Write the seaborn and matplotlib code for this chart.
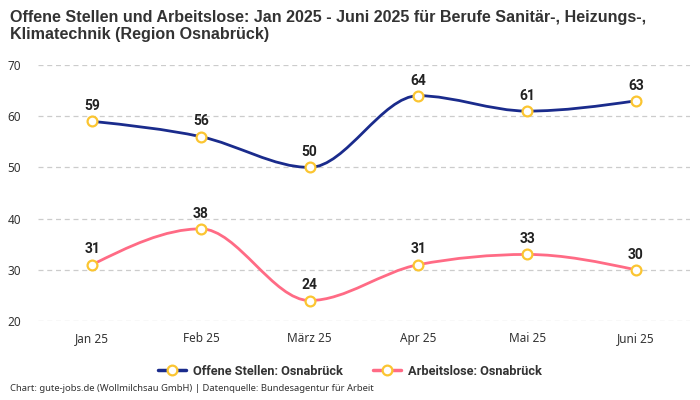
import numpy as np
import pandas as pd
import matplotlib
matplotlib.use("Agg")
import matplotlib.pyplot as plt
from matplotlib.path import Path
from matplotlib.patches import PathPatch
from matplotlib.lines import Line2D
import seaborn as sns

months = ["Jan 25", "Feb 25", "März 25", "Apr 25", "Mai 25", "Juni 25"]
offene_stellen = [59, 56, 50, 64, 61, 63]
arbeitslose = [31, 38, 24, 31, 33, 30]
series_names = ["Offene Stellen: Osnabrück", "Arbeitslose: Osnabrück"]
series_colors = ["#1a2b8c", "#ff6b85"]
marker_edge = "#fbc531"

sns.set_theme(style="white")
plt.rcParams['font.family'] = ['Noto Sans', 'DejaVu Sans']
bold_family = ['Roboto', 'Liberation Sans', 'DejaVu Sans']


def smooth_path(xs, ys):
    '''monotone cubic bezier through the points (just a rendering of the line)'''
    xs = np.asarray(xs, float)
    ys = np.asarray(ys, float)
    h = np.diff(xs)
    s = np.diff(ys) / h
    n = len(xs)
    t = np.zeros(n)
    for i in range(1, n - 1):
        if s[i - 1] * s[i] <= 0:
            t[i] = 0
        else:
            p = (s[i - 1] * h[i] + s[i] * h[i - 1]) / (h[i - 1] + h[i])
            t[i] = np.sign(s[i - 1]) * min(abs(s[i - 1]), abs(s[i]), 0.5 * abs(p)) * 2
    t[0] = (3 * s[0] - t[1]) / 2
    t[-1] = (3 * s[-1] - t[-2]) / 2
    verts = [(xs[0], ys[0])]
    codes = [Path.MOVETO]
    for i in range(n - 1):
        dx = h[i] / 3
        verts += [(xs[i] + dx, ys[i] + t[i] * dx),
                  (xs[i + 1] - dx, ys[i + 1] - t[i + 1] * dx),
                  (xs[i + 1], ys[i + 1])]
        codes += [Path.CURVE4] * 3
    return Path(verts, codes)


df = pd.DataFrame({
    "x": list(range(len(months))) * 2,
    "y": offene_stellen + arbeitslose,
    "serie": [series_names[0]] * len(months) + [series_names[1]] * len(months),
})

fig = plt.figure(figsize=(7, 4), dpi=100)
ax = fig.add_axes([0.054, 0.1975, 0.932, 0.64])

for name, vals, col in zip(series_names, [offene_stellen, arbeitslose], series_colors):
    ax.add_patch(PathPatch(smooth_path(range(len(months)), vals), facecolor="none",
                           edgecolor=col, lw=2, zorder=2))
    for i, v in enumerate(vals):
        ax.text(i, v + 1.6, str(v), ha="center", va="bottom", fontsize=10,
                fontweight="bold", color="#222222", zorder=4, family=bold_family)

sns.scatterplot(data=df, x="x", y="y", ax=ax, color="white", edgecolor=marker_edge,
                linewidth=1.6, s=50, zorder=3, legend=False)

ax.set_xlim(-0.5, len(months) - 0.5)
ax.set_ylim(20, 70)
ax.set_yticks([20, 30, 40, 50, 60, 70])
ax.set_xticks(range(len(months)))
ax.set_xticklabels(months)
ax.set_xlabel("")
ax.set_ylabel("")
ax.tick_params(axis="y", labelsize=8.5, colors="#333333", pad=12, length=0)
ax.tick_params(axis="x", labelsize=8.5, colors="#333333", pad=8, length=0)
ax.yaxis.grid(True, ls=(0, (4, 3)), color="#cccccc", lw=0.9)
for sp in ax.spines.values():
    sp.set_visible(False)

handles = [Line2D([0], [0], color=c, lw=2.5, marker="o", markersize=7,
                  markerfacecolor="white", markeredgecolor=marker_edge, markeredgewidth=1.6)
           for c in series_colors]
leg = fig.legend(handles, series_names, loc="center", bbox_to_anchor=(0.5, 0.072),
                 ncol=2, frameon=False, handlelength=2.2, handletextpad=0.5, columnspacing=2.4,
                 prop={"weight": "bold", "size": 9.2, "family": bold_family})
for txt in leg.get_texts():
    txt.set_color("#333333")

fig.text(0.014, 0.975, "Offene Stellen und Arbeitslose: Jan 2025 - Juni 2025 für Berufe Sanitär-, Heizungs-,\nKlimatechnik (Region Osnabrück)",
         ha="left", va="top", fontsize=11.6, fontweight="bold", color="#333333", linespacing=1.2,
         family=['Liberation Sans', 'DejaVu Sans'])
fig.text(0.014, 0.017, "Chart: gute-jobs.de (Wollmilchsau GmbH) | Datenquelle: Bundesagentur für Arbeit",
         ha="left", va="bottom", fontsize=6.8, color="#333333")

fig.savefig("out.png", dpi=100)
